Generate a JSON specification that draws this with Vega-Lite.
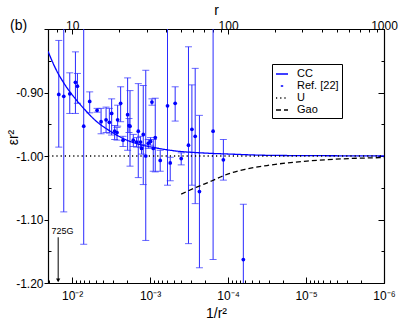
{
  "$schema": "https://vega.github.io/schema/vega-lite/v6.json",
  "width": 336,
  "height": 254,
  "autosize": {"type": "none"},
  "padding": {"left": 48, "top": 29, "right": 31, "bottom": 38},
  "title": {"text": "(b)", "anchor": "start", "frame": "bounds", "fontSize": 14, "fontWeight": "normal", "font": "Liberation Sans", "color": "#000", "offset": 0, "dy": 30, "dx": 4},
  "config": {
    "font": "Liberation Sans",
    "view": {"stroke": "#000", "strokeWidth": 1},
    "axis": {"domainColor": "#000", "domainWidth": 1.2, "tickColor": "#000", "labelColor": "#000", "titleColor": "#000", "labelFont": "Liberation Sans", "titleFont": "Liberation Sans", "labelFontSize": 12, "titleFontSize": 14, "titleFontWeight": "normal", "grid": false, "labelFlush": false, "labelOverlap": false},
    "legend": {"orient": "none", "legendX": 224, "legendY": 35, "title": null, "symbolType": "stroke", "strokeColor": "#000", "padding": 3, "rowPadding": 0, "labelFontSize": 11, "labelFont": "Liberation Sans", "labelColor": "#000", "labelOffset": 8, "symbolSize": 144, "symbolStrokeWidth": 1.4}
  },
  "datasets": {
    "pts": [
      {"x": 0.01484, "y": -0.903, "lo": -0.986, "hi": -0.818},
      {"x": 0.01281, "y": -0.906, "lo": -1.088, "hi": -0.75},
      {"x": 0.01073, "y": -0.902, "lo": -0.933, "hi": -0.869},
      {"x": 0.009074, "y": -0.884, "lo": -0.933, "hi": -0.836},
      {"x": 0.008554, "y": -0.890, "lo": -0.917, "hi": -0.870},
      {"x": 0.007106, "y": -0.953, "lo": -1.139, "hi": -0.75},
      {"x": 0.005954, "y": -0.914, "lo": -0.932, "hi": -0.899},
      {"x": 0.004788, "y": -0.928, "lo": -0.931, "hi": -0.925},
      {"x": 0.004255, "y": -0.946, "lo": -0.965, "hi": -0.925},
      {"x": 0.003672, "y": -0.943, "lo": -0.963, "hi": -0.923},
      {"x": 0.003332, "y": -0.947, "lo": -0.964, "hi": -0.925},
      {"x": 0.003113, "y": -0.933, "lo": -0.967, "hi": -0.910},
      {"x": 0.002850, "y": -0.961, "lo": -0.974, "hi": -0.952},
      {"x": 0.002656, "y": -0.963, "lo": -0.975, "hi": -0.955},
      {"x": 0.002609, "y": -0.943, "lo": -0.953, "hi": -0.920},
      {"x": 0.002388, "y": -0.917, "lo": -0.946, "hi": -0.891},
      {"x": 0.002226, "y": -0.975, "lo": -0.985, "hi": -0.969},
      {"x": 0.001943, "y": -0.935, "lo": -0.991, "hi": -0.877},
      {"x": 0.001865, "y": -0.952, "lo": -0.963, "hi": -0.941},
      {"x": 0.001810, "y": -0.953, "lo": -1.016, "hi": -0.897},
      {"x": 0.001643, "y": -0.975, "lo": -0.985, "hi": -0.966},
      {"x": 0.001491, "y": -0.978, "lo": -0.986, "hi": -0.971},
      {"x": 0.001418, "y": -0.961, "lo": -1.034, "hi": -0.886},
      {"x": 0.001325, "y": -0.978, "lo": -0.986, "hi": -0.969},
      {"x": 0.001286, "y": -0.988, "lo": -0.997, "hi": -0.982},
      {"x": 0.001224, "y": -0.966, "lo": -1.045, "hi": -0.889},
      {"x": 0.001137, "y": -1.000, "lo": -1.133, "hi": -0.865},
      {"x": 0.001056, "y": -0.980, "lo": -0.988, "hi": -0.974},
      {"x": 0.000987, "y": -0.977, "lo": -0.983, "hi": -0.971},
      {"x": 0.000947, "y": -0.915, "lo": -0.920, "hi": -0.910},
      {"x": 0.000911, "y": -0.988, "lo": -1.024, "hi": -0.974},
      {"x": 0.000859, "y": -0.971, "lo": -1.025, "hi": -0.909},
      {"x": 0.000742, "y": -1.007, "lo": -1.024, "hi": -0.991},
      {"x": 0.000598, "y": -0.921, "lo": -1.046, "hi": -0.75},
      {"x": 0.000552, "y": -1.011, "lo": -1.039, "hi": -1.002},
      {"x": 0.000477, "y": -0.917, "lo": -0.945, "hi": -0.891},
      {"x": 0.000399, "y": -1.004, "lo": -1.014, "hi": -0.995},
      {"x": 0.000322, "y": -0.983, "lo": -1.138, "hi": -0.828},
      {"x": 0.000291, "y": -0.958, "lo": -1.046, "hi": -0.888},
      {"x": 0.000264, "y": -0.969, "lo": -1.075, "hi": -0.862},
      {"x": 0.000233, "y": -1.056, "lo": -1.176, "hi": -0.936},
      {"x": 0.0001556, "y": -0.961, "lo": -1.163, "hi": -0.75},
      {"x": 0.0001149, "y": -1.006, "lo": -1.038, "hi": -0.974},
      {"x": 0.0000637, "y": -1.163, "lo": -1.25, "hi": -1.076}
    ],
    "curves": [
      {"series": "CC", "x": 0.0204, "y": -0.835},
      {"series": "CC", "x": 0.01636, "y": -0.862},
      {"series": "CC", "x": 0.01218, "y": -0.889},
      {"series": "CC", "x": 0.009074, "y": -0.910},
      {"series": "CC", "x": 0.006758, "y": -0.928},
      {"series": "CC", "x": 0.005034, "y": -0.944},
      {"series": "CC", "x": 0.003235, "y": -0.961},
      {"series": "CC", "x": 0.00208, "y": -0.974},
      {"series": "CC", "x": 0.001337, "y": -0.982},
      {"series": "CC", "x": 0.000859, "y": -0.987},
      {"series": "CC", "x": 0.000477, "y": -0.992},
      {"series": "CC", "x": 0.000228, "y": -0.995},
      {"series": "CC", "x": 0.0000943, "y": -0.997},
      {"series": "CC", "x": 0.000029, "y": -0.999},
      {"series": "CC", "x": 0.00000665, "y": -0.9995},
      {"series": "CC", "x": 0.000001, "y": -1.0},
      {"series": "U", "x": 0.0204, "y": -1.0},
      {"series": "U", "x": 0.000001, "y": -1.0},
      {"series": "Gao", "x": 0.000399, "y": -1.060},
      {"series": "Gao", "x": 0.000264, "y": -1.050},
      {"series": "Gao", "x": 0.0001602, "y": -1.039},
      {"series": "Gao", "x": 0.0001092, "y": -1.030},
      {"series": "Gao", "x": 0.0000606, "y": -1.021},
      {"series": "Gao", "x": 0.0000317, "y": -1.015},
      {"series": "Gao", "x": 0.00000975, "y": -1.008},
      {"series": "Gao", "x": 0.00000275, "y": -1.004},
      {"series": "Gao", "x": 0.000001, "y": -1.0025}
    ],
    "note": [
      {"label": "725G", "x": 0.01841, "y": -1.1225, "ax": 0.0151, "ytop": -1.128, "ybot": -1.196}
    ]
  },
  "layer": [
    {
      "data": {"name": "pts"},
      "mark": {"type": "rule", "color": "#2a2aff", "strokeWidth": 1, "clip": true},
      "encoding": {
        "x": {
          "field": "x", "type": "quantitative",
          "scale": {"type": "log", "domain": [0.000001, 0.0204], "reverse": true, "nice": false},
          "axis": {
            "orient": "bottom", "title": "1/r²", "titlePadding": 2,
            "values": [0.02, 0.01, 0.009, 0.008, 0.007, 0.006, 0.005, 0.004, 0.003, 0.002, 0.001, 0.0009, 0.0008, 0.0007, 0.0006, 0.0005, 0.0004, 0.0003, 0.0002, 0.0001, 0.00009, 0.00008, 0.00007, 0.00006, 0.00005, 0.00004, 0.00003, 0.00002, 0.00001, 0.000009, 0.000008, 0.000007, 0.000006, 0.000005, 0.000004, 0.000003, 0.000002, 0.000001],
            "labelExpr": "abs(log(datum.value)/LN10 - round(log(datum.value)/LN10)) < 0.001 ? '10' + ['', '', '⁻²', '⁻³', '⁻⁴', '⁻⁵', '⁻⁶'][-round(log(datum.value)/LN10)] : ''",
            "tickSize": {"condition": {"test": "abs(log(datum.value)/LN10 - round(log(datum.value)/LN10)) < 0.001", "value": -6}, "value": -3},
            "labelPadding": 13
          }
        },
        "y": {
          "field": "lo", "type": "quantitative",
          "scale": {"domain": [-1.2, -0.8], "nice": false, "zero": false},
          "axis": {
            "orient": "left", "title": "εr²", "titleX": -31, "titleY": 108, "titleAngle": 270, "titleBaseline": "alphabetic", "titleAlign": "center",
            "values": [-1.2, -1.15, -1.1, -1.05, -1.0, -0.95, -0.9, -0.85, -0.8],
            "labelExpr": "abs(datum.value*10 - round(datum.value*10)) < 0.001 && datum.value < -0.85 ? replace(format(datum.value, '.2f'), '−', '-') : ''",
            "tickSize": {"condition": {"test": "abs(datum.value*10 - round(datum.value*10)) < 0.001", "value": 4}, "value": -3},
            "labelPadding": 1
          }
        },
        "y2": {"field": "hi"}
      }
    },
    {
      "data": {"name": "pts"},
      "mark": {"type": "tick", "orient": "horizontal", "color": "#2a2aff", "size": 7, "thickness": 1, "clip": true},
      "encoding": {
        "x": {"field": "x", "type": "quantitative", "axis": null},
        "y": {"field": "lo", "type": "quantitative", "axis": null}
      }
    },
    {
      "data": {"name": "pts"},
      "mark": {"type": "tick", "orient": "horizontal", "color": "#2a2aff", "size": 7, "thickness": 1, "clip": true},
      "encoding": {
        "x": {"field": "x", "type": "quantitative", "axis": null},
        "y": {"field": "hi", "type": "quantitative", "axis": null}
      }
    },
    {
      "data": {"name": "curves"},
      "mark": {"type": "line", "strokeWidth": 1.3, "interpolate": "monotone", "clip": true},
      "encoding": {
        "x": {"field": "x", "type": "quantitative", "axis": null},
        "y": {"field": "y", "type": "quantitative", "axis": null},
        "strokeDash": {
          "field": "series", "type": "nominal",
          "scale": {"domain": ["CC", "Ref. [22]", "U", "Gao"], "range": [[1, 0], [0, 4.8, 2.4, 20], [1.2, 3], [5, 3]]}
        },
        "color": {
          "field": "series", "type": "nominal",
          "scale": {"domain": ["CC", "Ref. [22]", "U", "Gao"], "range": ["#0000ff", "#0000ff", "#000000", "#000000"]}
        }
      }
    },
    {
      "data": {"name": "pts"},
      "mark": {"type": "point", "shape": "circle", "filled": true, "color": "#0000ff", "size": 14, "opacity": 1, "clip": true},
      "encoding": {
        "x": {"field": "x", "type": "quantitative", "axis": null},
        "y": {"field": "y", "type": "quantitative", "axis": null}
      }
    },
    {
      "data": {"name": "note"},
      "mark": {"type": "rule", "color": "#000", "strokeWidth": 1},
      "encoding": {
        "x": {"field": "ax", "type": "quantitative", "axis": null},
        "y": {"field": "ytop", "type": "quantitative", "axis": null},
        "y2": {"field": "ybot"}
      }
    },
    {
      "data": {"name": "note"},
      "mark": {"type": "point", "shape": "triangle-down", "filled": true, "color": "#000", "size": 18, "opacity": 1},
      "encoding": {
        "x": {"field": "ax", "type": "quantitative", "axis": null},
        "y": {"field": "ybot", "type": "quantitative", "axis": null}
      }
    },
    {
      "data": {"name": "note"},
      "mark": {"type": "text", "align": "left", "baseline": "alphabetic", "fontSize": 9, "color": "#000", "font": "Liberation Sans"},
      "encoding": {
        "x": {"field": "x", "type": "quantitative", "axis": null},
        "y": {"field": "y", "type": "quantitative", "axis": null},
        "text": {"field": "label"}
      }
    },
    {
      "data": {"values": [{"x": 0.01, "y": -1.0}]},
      "mark": {"type": "point", "opacity": 0},
      "encoding": {
        "x": {
          "field": "x", "type": "quantitative",
          "axis": {
            "orient": "top", "title": "r", "titlePadding": 0,
            "values": [0.015625, 0.012345679, 0.01, 0.0025, 0.001111111, 0.000625, 0.0004, 0.000277778, 0.000204082, 0.00015625, 0.000123457, 0.0001, 0.000025, 0.0000111111, 0.00000625, 0.000004, 0.00000277778, 0.00000204082, 0.0000015625, 0.00000123457, 0.000001],
            "labelExpr": "round(1/sqrt(datum.value)) == 10 || round(1/sqrt(datum.value)) == 100 || round(1/sqrt(datum.value)) == 1000 ? format(round(1/sqrt(datum.value)), 'd') : ''",
            "tickSize": {"condition": {"test": "round(1/sqrt(datum.value)) == 10 || round(1/sqrt(datum.value)) == 100 || round(1/sqrt(datum.value)) == 1000", "value": -5}, "value": -3},
            "labelPadding": 2
          }
        },
        "y": {
          "field": "y", "type": "quantitative",
          "axis": {
            "orient": "right", "title": null, "labels": false,
            "values": [-1.2, -1.15, -1.1, -1.05, -1.0, -0.95, -0.9, -0.85, -0.8],
            "tickSize": {"condition": {"test": "abs(datum.value*10 - round(datum.value*10)) < 0.001", "value": -6}, "value": -3}
          }
        }
      }
    }
  ],
  "resolve": {"axis": {"x": "independent", "y": "independent"}}
}
